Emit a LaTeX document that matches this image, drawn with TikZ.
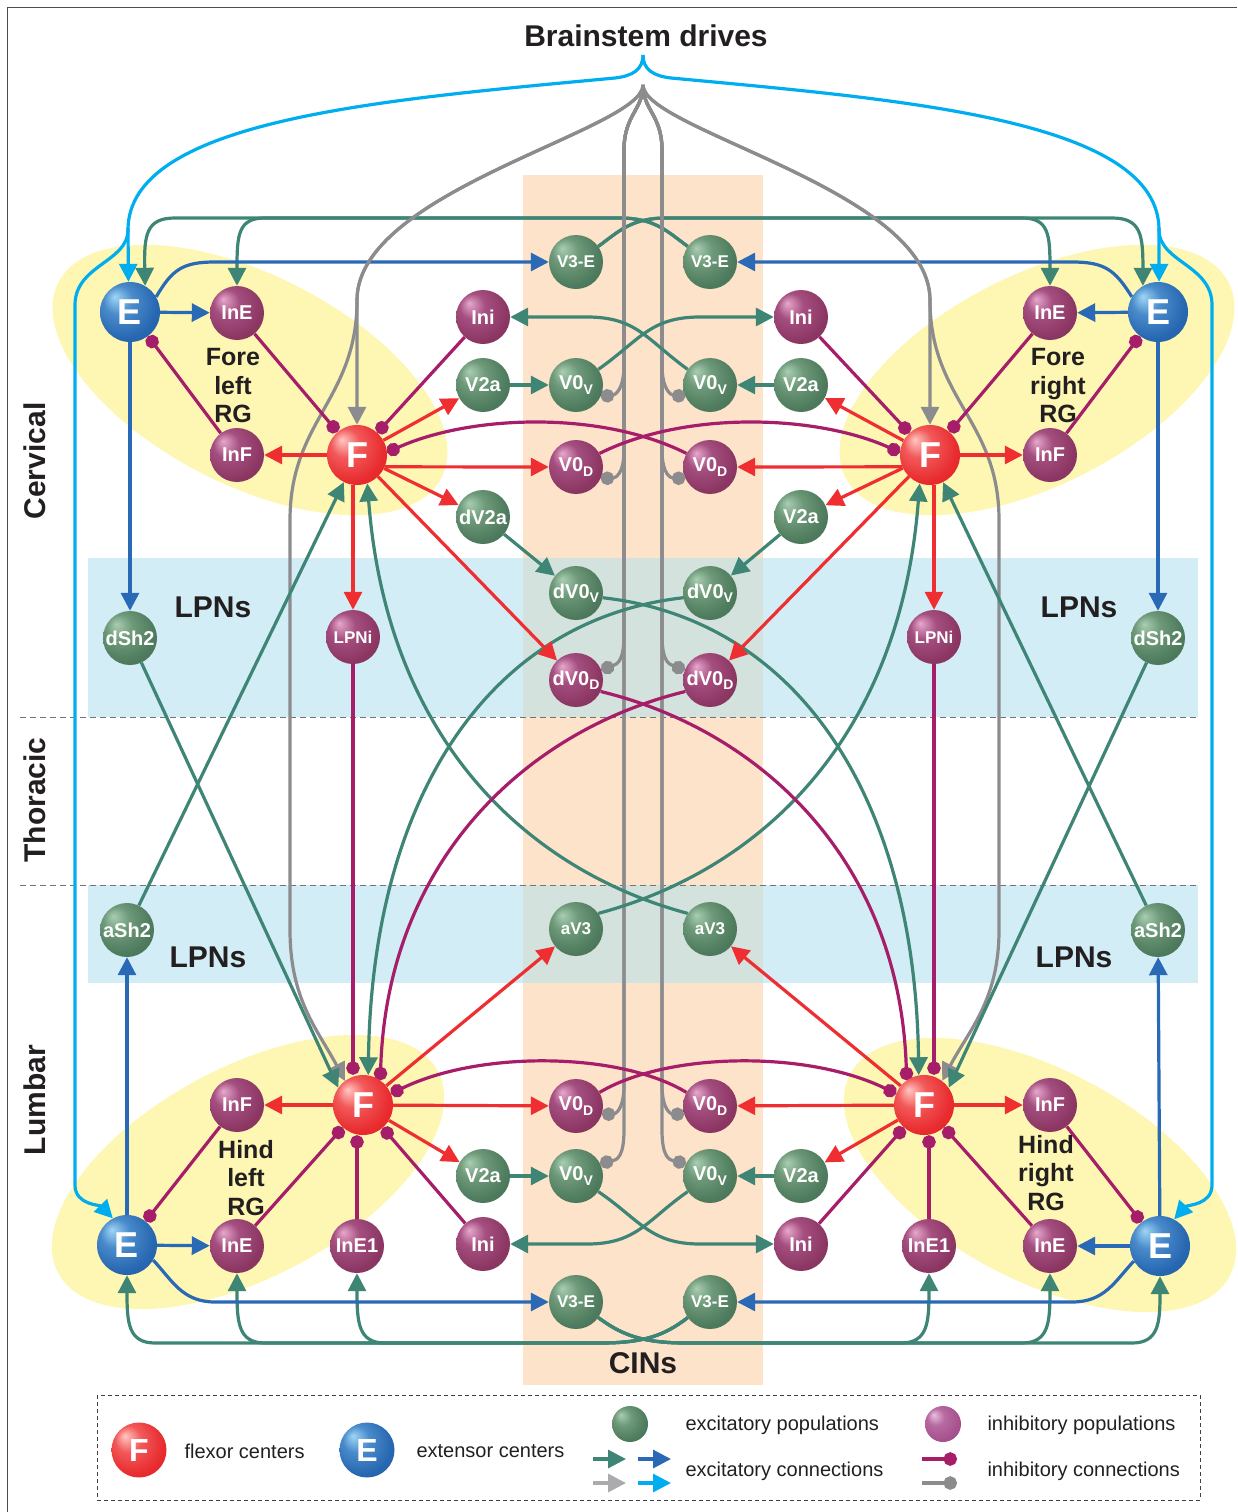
\documentclass[tikz,border=0pt]{standalone}
\usepackage{fontspec}
\newfontfamily\arialf{Liberation Sans}
\usetikzlibrary{arrows.meta}
\definecolor{gL}{HTML}{A9CDB2}\definecolor{gM}{HTML}{6E9A7A}\definecolor{gD}{HTML}{4E7A5D}\definecolor{gE}{HTML}{3E654B}
\definecolor{pL}{HTML}{E7A8CC}\definecolor{pM}{HTML}{A44F80}\definecolor{pD}{HTML}{8C3763}\definecolor{pE}{HTML}{742A52}
\definecolor{rL}{HTML}{FFC7C2}\definecolor{rM}{HTML}{F2595A}\definecolor{rD}{HTML}{E82B2E}\definecolor{rE}{HTML}{CF1F24}
\definecolor{bL}{HTML}{9FD6F5}\definecolor{bM}{HTML}{4A8BCB}\definecolor{bD}{HTML}{2767B1}\definecolor{bE}{HTML}{1F5596}
\definecolor{qL}{HTML}{E8C0DC}\definecolor{qM}{HTML}{B76AA2}\definecolor{qD}{HTML}{A5518D}\definecolor{qE}{HTML}{8E4279}
\definecolor{tealC}{HTML}{3E8576}
\definecolor{blueC}{HTML}{2A69B5}
\definecolor{cyanC}{HTML}{00AEEF}
\definecolor{redC}{HTML}{EE2E31}
\definecolor{inhC}{HTML}{A61D6A}
\definecolor{grayC}{HTML}{8C8C8E}
\definecolor{lgrayC}{HTML}{ABABAD}
\definecolor{txtC}{HTML}{231F20}
\definecolor{orangeC}{HTML}{FDE3CA}
\definecolor{bandC}{HTML}{D3EDF6}
\definecolor{overC}{HTML}{D3E2DC}
\definecolor{yelC}{HTML}{FEF6B3}
\pgfdeclareradialshading{gball}{\pgfpoint{-13bp}{13bp}}{color(0bp)=(gL); color(12bp)=(gM); color(28bp)=(gD); color(50bp)=(gE)}
\pgfdeclareradialshading{pball}{\pgfpoint{-13bp}{13bp}}{color(0bp)=(pL); color(12bp)=(pM); color(28bp)=(pD); color(50bp)=(pE)}
\pgfdeclareradialshading{rball}{\pgfpoint{-13bp}{13bp}}{color(0bp)=(rL); color(12bp)=(rM); color(28bp)=(rD); color(50bp)=(rE)}
\pgfdeclareradialshading{bball}{\pgfpoint{-13bp}{13bp}}{color(0bp)=(bL); color(12bp)=(bM); color(28bp)=(bD); color(50bp)=(bE)}
\pgfdeclareradialshading{qball}{\pgfpoint{-13bp}{13bp}}{color(0bp)=(qL); color(12bp)=(qM); color(28bp)=(qD); color(50bp)=(qE)}
\pgfdeclarelayer{back}
\pgfdeclarelayer{mid}
\pgfsetlayers{back,mid,main}
\newcommand\lsub[1]{\raisebox{-0.22em}{\fontsize{14}{14}\selectfont #1}}
\tikzset{
 nd/.style={circle, minimum size=54pt, inner sep=0pt, text=white, font=\arialf\bfseries\fontsize{20}{20}\selectfont},
 gn/.style={nd, shading=gball},
 pn/.style={nd, shading=pball},
 bigc/.style={circle, minimum size=60pt, inner sep=0pt, text=white, font=\arialf\bfseries\fontsize{36}{36}\selectfont},
 fn/.style={bigc, shading=rball},
 en/.style={bigc, shading=bball},
 smallf/.style={font=\arialf\bfseries\fontsize{17}{17}\selectfont},
 tinyf/.style={font=\arialf\bfseries\fontsize{17}{17}\selectfont},
 conn/.style={line width=3.2pt},
 exc/.style={conn, draw=#1, -{Triangle[length=18pt,width=18pt]}},
 inhc/.style={conn, draw=#1, -{Circle[length=13.5pt]}},
 lbl/.style={text=txtC, font=\arialf\bfseries\fontsize{30}{30}\selectfont},
 rgl/.style={text=txtC, align=center, font=\arialf\bfseries\fontsize{25}{28.5}\selectfont},
 leg/.style={text=txtC, anchor=west, font=\arialf\fontsize{20}{20}\selectfont},
}
\begin{document}
\begin{tikzpicture}[x=1pt,y=-1pt]
\useasboundingbox (0,0) rectangle (1237,1512);
\begin{pgfonlayer}{back}
\draw[line width=1pt, draw=black!70] (7,1512) -- (7,8) -- (1237,8);
\fill[orangeC] (523,175) rectangle (763,1385);
\fill[bandC] (88,558) rectangle (1198,717);
\fill[bandC] (88,885) rectangle (1198,983);
\fill[overC] (523,558) rectangle (763,717);
\fill[overC] (523,885) rectangle (763,983);
\fill[yelC, rotate around={-27:(250,380)}] (250,380) ellipse [x radius=215pt, y radius=105pt];
\fill[yelC, rotate around={27:(1037,380)}] (1037,380) ellipse [x radius=215pt, y radius=105pt];
\fill[yelC, rotate around={28:(248,1172)}] (248,1172) ellipse [x radius=215pt, y radius=105pt];
\fill[yelC, rotate around={-28:(1040,1175)}] (1040,1175) ellipse [x radius=215pt, y radius=105pt];
\draw[line width=1pt, draw=black!55, dash pattern=on 6pt off 4pt] (20,717) -- (1198,717);
\draw[line width=1pt, draw=black!55, dash pattern=on 6pt off 4pt] (20,885) -- (1198,885);
\end{pgfonlayer}

% ---------- nodes
\node[en] (E1) at (130,312) {E};
\node[pn] (InE1) at (237,313) {InE};
\node[pn] (InF1) at (237,455) {InF};
\node[fn] (F1) at (357,455) {F};
\node[pn] (Ini1) at (483,317) {Ini};
\node[gn] (V2a1) at (483,385) {V2a};
\node[gn] (V0v1) at (576,385) {V0\lsub{V}};
\node[pn] (V0d1) at (576,467) {V0\lsub{D}};
\node[gn] (dV2a1) at (483,517) {dV2a};
\node[gn, smallf] (V3E1) at (576,262) {V3-E};
\node[gn] (dV0v1) at (576,593) {dV0\lsub{V}};
\node[pn] (dV0d1) at (576,680) {dV0\lsub{D}};
\node[gn] (dSh21) at (130,638) {dSh2};
\node[pn, tinyf] (LPNi1) at (353,637) {LPNi};
\node[en] (E2) at (1158,312) {E};
\node[pn] (InE2) at (1050,313) {InE};
\node[pn] (InF2) at (1050,455) {InF};
\node[fn] (F2) at (930,455) {F};
\node[pn] (Ini2) at (801,317) {Ini};
\node[gn] (V2a2) at (801,385) {V2a};
\node[gn] (V0v2) at (710,385) {V0\lsub{V}};
\node[pn] (V0d2) at (710,467) {V0\lsub{D}};
\node[gn] (V2a2b) at (801,517) {V2a};
\node[gn, smallf] (V3E2) at (710,262) {V3-E};
\node[gn] (dV0v2) at (710,593) {dV0\lsub{V}};
\node[pn] (dV0d2) at (710,680) {dV0\lsub{D}};
\node[gn] (dSh22) at (1158,638) {dSh2};
\node[pn, tinyf] (LPNi2) at (934,637) {LPNi};
\node[en] (E3) at (127,1245) {E};
\node[pn] (InE3) at (237,1246) {InE};
\node[pn] (InF3) at (237,1105) {InF};
\node[fn] (F3) at (363,1105) {F};
\node[pn] (InE13) at (357,1246) {InE1};
\node[pn] (Ini3) at (483,1244) {Ini};
\node[gn] (V2a3) at (483,1176) {V2a};
\node[pn] (V0d3) at (576,1106) {V0\lsub{D}};
\node[gn] (V0v3) at (576,1176) {V0\lsub{V}};
\node[gn, smallf] (V3E3) at (576,1302) {V3-E};
\node[gn] (aSh23) at (127,930) {aSh2};
\node[gn, smallf] (aV33) at (576,929) {aV3};
\node[en] (E4) at (1160,1246) {E};
\node[pn] (InE4) at (1050,1246) {InE};
\node[pn] (InF4) at (1050,1105) {InF};
\node[fn] (F4) at (924,1105) {F};
\node[pn] (InE14) at (929,1246) {InE1};
\node[pn] (Ini4) at (801,1244) {Ini};
\node[gn] (V2a4) at (801,1176) {V2a};
\node[pn] (V0d4) at (710,1106) {V0\lsub{D}};
\node[gn] (V0v4) at (710,1176) {V0\lsub{V}};
\node[gn, smallf] (V3E4) at (710,1302) {V3-E};
\node[gn] (aSh24) at (1158,930) {aSh2};
\node[gn, smallf] (aV34) at (710,929) {aV3};

\coordinate (bsC) at (643,55);
\coordinate (bsG) at (643,85);
\coordinate (cyL) at (128,228);
\coordinate (cyR) at (1159,228);

% ---------- labels
\node[lbl] (title) at (646,36) {Brainstem drives};
\node[lbl, rotate=90] (cerv) at (35,461) {Cervical};
\node[lbl, rotate=90] (thor) at (35,800) {Thoracic};
\node[lbl, rotate=90] (lumb) at (35,1100) {Lumbar};
\node[lbl] (lp1) at (213,607) {LPNs};
\node[lbl] (lp2) at (1079,607) {LPNs};
\node[lbl] (lp3) at (208,957) {LPNs};
\node[lbl] (lp4) at (1074,957) {LPNs};
\node[lbl] (cins) at (643,1363) {CINs};
\node[rgl] (rg1) at (233,386) {Fore\\left\\RG};
\node[rgl] (rg2) at (1058,386) {Fore\\right\\RG};
\node[rgl] (rg3) at (246,1178) {Hind\\left\\RG};
\node[rgl] (rg4) at (1046,1173) {Hind\\right\\RG};

\begin{pgfonlayer}{mid}
% cyan
\draw[exc=cyanC] (bsC) .. controls (643,70) and (632,76) .. (615,78) .. controls (380,100) and (128,120) .. (128,230) .. controls (128,262) and (75,265) .. (75,305) -- (75,1185) .. controls (75,1205) and (100,1205) .. (E3.118);
\draw[exc=cyanC] (cyL) -- (E1.93);
\draw[exc=cyanC] (bsC) .. controls (643,70) and (654,76) .. (671,78) .. controls (906,100) and (1159,120) .. (1159,230) .. controls (1159,262) and (1212,265) .. (1212,305) -- (1212,1185) .. controls (1212,1205) and (1187,1205) .. (E4.62);
\draw[exc=cyanC] (cyR) -- (E2.88);
% teal top bus
\draw[exc=tealC] (V3E2.145) .. controls (668,232) and (655,218) .. (620,218) -- (175,218) .. controls (146,218) and (144,235) .. (E1.60);
\draw[exc=tealC] (V3E2.145) .. controls (668,232) and (655,218) .. (620,218) -- (265,218) .. controls (238,218) and (237,235) .. (InE1.north);
\draw[exc=tealC] (V3E1.35) .. controls (618,232) and (631,218) .. (666,218) -- (1112,218) .. controls (1141,218) and (1143,235) .. (E2.120);
\draw[exc=tealC] (V3E1.35) .. controls (618,232) and (631,218) .. (666,218) -- (1022,218) .. controls (1049,218) and (1050,235) .. (InE2.north);
% teal bottom bus
\draw[exc=tealC] (V3E4.215) .. controls (665,1335) and (645,1343) .. (600,1343) -- (155,1343) .. controls (128,1343) and (127,1322) .. (E3.south);
\draw[exc=tealC] (V3E4.215) .. controls (665,1335) and (645,1343) .. (600,1343) -- (265,1343) .. controls (238,1343) and (237,1322) .. (InE3.south);
\draw[exc=tealC] (V3E4.215) .. controls (665,1335) and (645,1343) .. (600,1343) -- (385,1343) .. controls (358,1343) and (357,1322) .. (InE13.south);
\draw[exc=tealC] (V3E3.-35) .. controls (622,1335) and (642,1343) .. (687,1343) -- (1132,1343) .. controls (1159,1343) and (1160,1322) .. (E4.south);
\draw[exc=tealC] (V3E3.-35) .. controls (622,1335) and (642,1343) .. (687,1343) -- (1022,1343) .. controls (1049,1343) and (1050,1322) .. (InE4.south);
\draw[exc=tealC] (V3E3.-35) .. controls (622,1335) and (642,1343) .. (687,1343) -- (901,1343) .. controls (928,1343) and (929,1322) .. (InE14.south);
% blue
\draw[exc=blueC] (E1.30) .. controls (172,270) and (182,262) .. (215,262) -- (V3E1.west);
\draw[exc=blueC] (E1) -- (InE1);
\draw[exc=blueC] (E1) -- (dSh21);
\draw[exc=blueC] (E2.150) .. controls (1115,270) and (1105,262) .. (1072,262) -- (V3E2.east);
\draw[exc=blueC] (E2) -- (InE2);
\draw[exc=blueC] (E2) -- (dSh22);
\draw[exc=blueC] (E3.-30) .. controls (172,1280) and (182,1302) .. (215,1302) -- (V3E3.west);
\draw[exc=blueC] (E3) -- (InE3);
\draw[exc=blueC] (E3) -- (aSh23);
\draw[exc=blueC] (E4.210) .. controls (1115,1281) and (1105,1302) .. (1072,1302) -- (V3E4.east);
\draw[exc=blueC] (E4) -- (InE4);
\draw[exc=blueC] (E4) -- (aSh24);
% gray
\draw[exc=grayC] (bsG) .. controls (643,130) and (357,190) .. (357,300) -- (F1.north);
\draw[exc=grayC] (bsG) .. controls (643,130) and (357,190) .. (357,300) .. controls (357,400) and (290,420) .. (290,520) -- (290,930) .. controls (290,1000) and (318,1030) .. (F3.127);
\draw[exc=grayC] (bsG) .. controls (643,130) and (930,190) .. (930,300) -- (F2.north);
\draw[exc=grayC] (bsG) .. controls (643,130) and (930,190) .. (930,300) .. controls (930,400) and (999,420) .. (999,520) -- (999,930) .. controls (999,1000) and (969,1030) .. (F4.53);
\draw[inhc=grayC] (bsG) .. controls (643,110) and (624,115) .. (624,150) -- (624,365) .. controls (624,390) and (615,395) .. (V0v1.-25);
\draw[inhc=grayC] (bsG) .. controls (643,110) and (624,115) .. (624,150) -- (624,450) .. controls (624,475) and (615,478) .. (V0d1.-25);
\draw[inhc=grayC] (bsG) .. controls (643,110) and (624,115) .. (624,150) -- (624,635) .. controls (624,660) and (618,664) .. (dV0d1.22);
\draw[inhc=grayC] (bsG) .. controls (643,110) and (624,115) .. (624,150) -- (624,1085) .. controls (624,1110) and (615,1114) .. (V0d3.-18);
\draw[inhc=grayC] (bsG) .. controls (643,110) and (624,115) .. (624,150) -- (624,1130) .. controls (624,1155) and (618,1160) .. (V0v3.28);
\draw[inhc=grayC] (bsG) .. controls (643,110) and (662,115) .. (662,150) -- (662,365) .. controls (662,390) and (671,395) .. (V0v2.205);
\draw[inhc=grayC] (bsG) .. controls (643,110) and (662,115) .. (662,150) -- (662,450) .. controls (662,475) and (671,478) .. (V0d2.205);
\draw[inhc=grayC] (bsG) .. controls (643,110) and (662,115) .. (662,150) -- (662,635) .. controls (662,660) and (668,664) .. (dV0d2.158);
\draw[inhc=grayC] (bsG) .. controls (643,110) and (662,115) .. (662,150) -- (662,1085) .. controls (662,1110) and (671,1114) .. (V0d4.198);
\draw[inhc=grayC] (bsG) .. controls (643,110) and (662,115) .. (662,150) -- (662,1130) .. controls (662,1155) and (668,1160) .. (V0v4.152);
% teal others
\draw[exc=tealC] (V2a1) -- (V0v1);
\draw[exc=tealC] (V2a2) -- (V0v2);
\draw[exc=tealC] (V2a3) -- (V0v3);
\draw[exc=tealC] (V2a4) -- (V0v4);
\draw[exc=tealC] (V0v1.35) .. controls (640,340) and (650,317) .. (700,317) -- (Ini2.west);
\draw[exc=tealC] (V0v2.145) .. controls (647,340) and (637,317) .. (587,317) -- (Ini1.east);
\draw[exc=tealC] (V0v3.-35) .. controls (640,1220) and (650,1244) .. (700,1244) -- (Ini4.west);
\draw[exc=tealC] (V0v4.215) .. controls (647,1220) and (637,1244) .. (587,1244) -- (Ini3.east);
\draw[exc=tealC] (dV2a1) -- (dV0v1);
\draw[exc=tealC] (V2a2b) -- (dV0v2);
\draw[exc=tealC] (dV0v1.-10) .. controls (800,620) and (915,800) .. (F4.100);
\draw[exc=tealC] (dV0v2.190) .. controls (487,620) and (372,800) .. (F3.80);
\draw[exc=tealC] (aV33.35) .. controls (760,870) and (900,740) .. (F2.250);
\draw[exc=tealC] (aV34.145) .. controls (527,870) and (387,740) .. (F1.290);
\draw[exc=tealC] (aSh23) -- (F1);
\draw[exc=tealC] (aSh24) -- (F2);
\draw[exc=tealC] (dSh21) -- (F3.145);
\draw[exc=tealC] (dSh22) -- (F4.35);
% red
\draw[exc=redC] (F1) -- (InF1);
\draw[exc=redC] (F1) -- (V2a1);
\draw[exc=redC] (F1.-23) -- (V0d1.west);
\draw[exc=redC] (F1) -- (dV2a1);
\draw[exc=redC] (F1) -- (dV0d1);
\draw[exc=redC] (F1.south -| LPNi1) -- (LPNi1.north);
\draw[exc=redC] (F2) -- (InF2);
\draw[exc=redC] (F2) -- (V2a2);
\draw[exc=redC] (F2.203) -- (V0d2.east);
\draw[exc=redC] (F2) -- (V2a2b);
\draw[exc=redC] (F2) -- (dV0d2);
\draw[exc=redC] (F2.south -| LPNi2) -- (LPNi2.north);
\draw[exc=redC] (F3) -- (InF3);
\draw[exc=redC] (F3) -- (V0d3);
\draw[exc=redC] (F3) -- (V2a3);
\draw[exc=redC] (F3) -- (aV33);
\draw[exc=redC] (F4) -- (InF4);
\draw[exc=redC] (F4) -- (V0d4);
\draw[exc=redC] (F4) -- (V2a4);
\draw[exc=redC] (F4) -- (aV34);
% inhibitory
\draw[inhc=inhC] (InE1) -- (F1);
\draw[inhc=inhC] (InF1) -- (E1);
\draw[inhc=inhC] (Ini1) -- (F1);
\draw[inhc=inhC] (V0d2.150) .. controls (600,410) and (470,415) .. (F1.5);
\draw[inhc=inhC] (InE2) -- (F2);
\draw[inhc=inhC] (InF2) -- (E2);
\draw[inhc=inhC] (Ini2) -- (F2);
\draw[inhc=inhC] (V0d1.30) .. controls (687,410) and (817,415) .. (F2.175);
\draw[inhc=inhC] (InF3) -- (E3);
\draw[inhc=inhC] (InE3) -- (F3);
\draw[inhc=inhC] (InE13) -- (InE13 |- F3.south);
\draw[inhc=inhC] (Ini3) -- (F3);
\draw[inhc=inhC] (V0d4.150) .. controls (620,1052) and (480,1050) .. (F3.22);
\draw[inhc=inhC] (InF4) -- (E4);
\draw[inhc=inhC] (InE4) -- (F4);
\draw[inhc=inhC] (InE14) -- (InE14 |- F4.south);
\draw[inhc=inhC] (Ini4) -- (F4);
\draw[inhc=inhC] (V0d3.30) .. controls (667,1052) and (807,1050) .. (F4.158);
\draw[inhc=inhC] (LPNi1) -- (LPNi1 |- F3.north);
\draw[inhc=inhC] (LPNi2) -- (LPNi2 |- F4.north);
\draw[inhc=inhC] (dV0d1.-25) .. controls (760,730) and (900,860) .. (F4.125);
\draw[inhc=inhC] (dV0d2.205) .. controls (527,730) and (387,860) .. (F3.55);
\end{pgfonlayer}

% ---------- legend
\draw[line width=1pt, draw=black!75, dash pattern=on 4pt off 3pt] (97,1395) rectangle (1200,1500);
\node[fn, minimum size=55pt, font=\arialf\bfseries\fontsize{32}{32}\selectfont] (lgF) at (139,1450) {F};
\node[leg] (lgFt) at (181,1451) {flexor centers};
\node[en, minimum size=55pt, font=\arialf\bfseries\fontsize{32}{32}\selectfont] (lgE) at (367,1450) {E};
\node[leg] (lgEt) at (413,1451) {extensor centers};
\node[circle, minimum size=36pt, inner sep=0pt, shading=gball] (lgG) at (630,1424) {};
\node[leg] (lgGt) at (682,1425) {excitatory populations};
\node[circle, minimum size=36pt, inner sep=0pt, shading=qball] (lgP) at (943,1424) {};
\node[leg] (lgPt) at (984,1425) {inhibitory populations};
\node[leg] (lgXt) at (682,1471) {excitatory connections};
\node[leg] (lgIt) at (984,1471) {inhibitory connections};
\coordinate (la1) at (593,1459); \coordinate (lb1) at (626,1459);
\coordinate (la2) at (638,1459); \coordinate (lb2) at (671,1459);
\coordinate (la3) at (593,1483); \coordinate (lb3) at (626,1483);
\coordinate (la4) at (638,1483); \coordinate (lb4) at (671,1483);
\coordinate (la5) at (922,1459); \coordinate (lb5) at (957,1459);
\coordinate (la6) at (922,1483); \coordinate (lb6) at (957,1483);
\draw[exc=tealC] (la1) -- (lb1);
\draw[exc=blueC] (la2) -- (lb2);
\draw[exc=lgrayC] (la3) -- (lb3);
\draw[exc=cyanC] (la4) -- (lb4);
\draw[inhc=inhC] (la5) -- (lb5);
\draw[inhc=grayC] (la6) -- (lb6);
\end{tikzpicture}
\end{document}
